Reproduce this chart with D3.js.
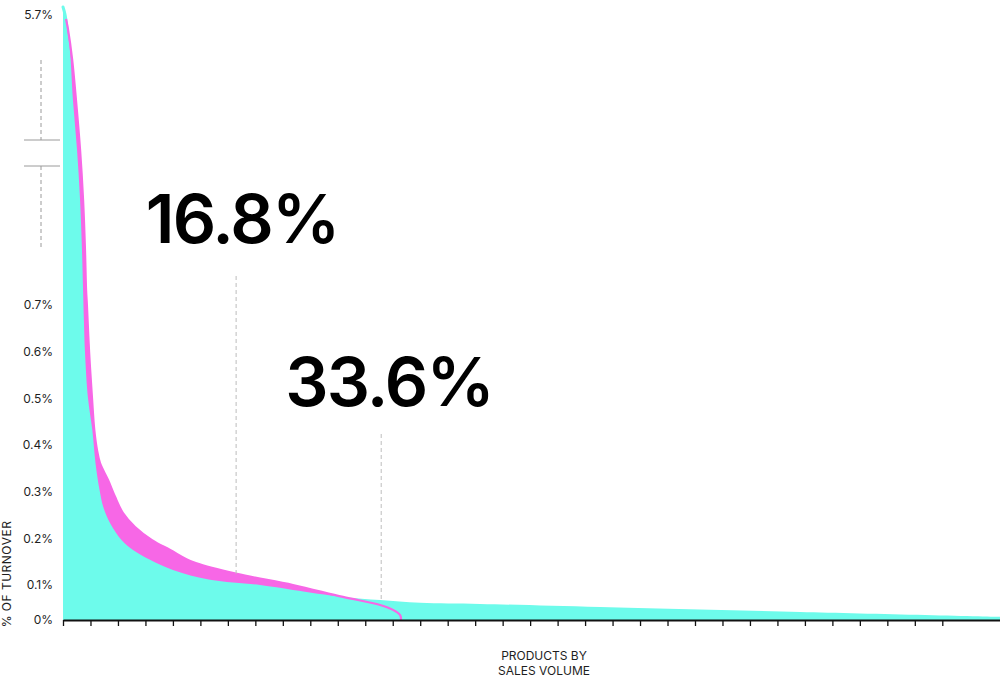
<!DOCTYPE html>
<html>
<head>
<meta charset="utf-8">
<title>Share of turnover by product</title>
<script src="https://cdn.jsdelivr.net/npm/d3@7/dist/d3.min.js"></script>
<style>
    body { margin: 0; background: #fff; }
    text { font-family: Inter, "Noto Sans", sans-serif; }
</style>
</head>
<body>
<div id="chart"></div>
<script>
// products ranked by sales volume (x) against their share of turnover in % (y)
var allRank  = [0, 0.07, 0.15, 0.25, 0.36, 0.51, 0.62, 0.69, 0.73, 0.76, 0.80, 0.91, 1.067, 1.183, 1.329, 1.467, 1.711, 2.137, 2.548, 3.167, 4.00, 5.35, 7.17, 8.37, 10.19, 11.54, 13.0, 15.18, 19.55, 26.83, 34.1];
var allShare = [5.7, 5.58, 5.33, 4.99, 4.15, 3.31, 2.47, 1.63, 0.95, 0.668, 0.599, 0.50, 0.432, 0.361, 0.304, 0.267, 0.233, 0.196, 0.175, 0.154, 0.132, 0.111, 0.100, 0.086, 0.066, 0.057, 0.049, 0.046, 0.037, 0.023, 0.009];

var subRank  = [0, 0.11, 0.18, 0.33, 0.47, 0.62, 0.73, 0.80, 0.84, 0.87, 0.95, 1.056, 1.139, 1.238, 1.347, 1.638, 1.893, 2.184, 2.621, 3.24, 3.90, 4.73, 6.33, 8.37, 10.19, 11.54, 12.01, 12.27, 12.30];
var subShare = [5.7, 5.5, 5.33, 4.83, 4.15, 3.31, 2.47, 1.63, 0.95, 0.70, 0.599, 0.50, 0.432, 0.389, 0.361, 0.325, 0.289, 0.254, 0.224, 0.196, 0.175, 0.149, 0.124, 0.1, 0.066, 0.043, 0.029, 0.014, 0];

var yTicks = [0, 0.1, 0.2, 0.3, 0.4, 0.5, 0.6, 0.7, 5.7];
var xTicks = d3.range(0, 33);

var notes     = ["16.8%", "33.6%"];
var noteRank  = [6.3, 11.58];
var noteShare = [0.124, 0.057];
var noteTopPx = [276, 434];

var width = 1000, height = 679;
var cyan = "#6dfbeb", pink = "#f767e6";

var svg = d3.select("#chart").append("svg")
    .attr("width", width)
    .attr("height", height);

var x = d3.scaleLinear().domain([0, 34.1]).range([63, 1000]);
// broken axis: the 0.7% .. 5.7% stretch is squeezed
var y = d3.scaleLinear().domain([0, 0.1, 0.7, 5.7]).range([620, 585, 305, 7]);

var all = allRank.map(function(r, i) { return { r: r, v: allShare[i] }; });
var sub = subRank.map(function(r, i) { return { r: r, v: subShare[i] }; });

var curve = d3.curveCatmullRom.alpha(0.5);

var area = d3.area()
    .x(function(d) { return x(d.r); })
    .y0(y(0))
    .y1(function(d) { return y(d.v); })
    .curve(curve);

var line = d3.line()
    .x(function(d) { return x(d.r); })
    .y(function(d) { return y(d.v); })
    .curve(curve);

svg.append("path").datum(sub)
    .attr("fill", pink)
    .attr("d", area);

svg.append("path").datum(all)
    .attr("fill", cyan)
    .attr("d", area);

// rounded tip at the top of the first product
svg.append("path").datum(all.slice(0, 3))
    .attr("fill", "none")
    .attr("stroke", cyan)
    .attr("stroke-width", 3)
    .attr("stroke-linecap", "round")
    .attr("d", line);

svg.append("path").datum(sub.slice(1))
    .attr("fill", "none")
    .attr("stroke", pink)
    .attr("stroke-width", 2.2)
    .attr("d", line);

// x axis
var xAxis = svg.append("g")
    .attr("transform", "translate(0," + y(0) + ")")
    .call(d3.axisBottom(x).tickValues(xTicks).tickSize(6).tickSizeOuter(0).tickFormat(""));
xAxis.select(".domain").attr("stroke", "#111").attr("stroke-width", 2);
xAxis.selectAll(".tick line").attr("stroke", "#111").attr("stroke-width", 1.3);

// y axis (labels only)
var yAxis = svg.append("g")
    .attr("transform", "translate(53,0)")
    .call(d3.axisLeft(y).tickValues(yTicks).tickSize(0)
        .tickFormat(function(d) { return d + "%"; }));
yAxis.select(".domain").remove();
yAxis.selectAll("text")
    .attr("x", 0)
    .style("font-family", "Inter, sans-serif")
    .style("font-size", "12px")
    .style("fill", "#1e1e1e")
    .attr("dy", function(d) { return d === 5.7 ? "0.95em" : "0.32em"; });

// axis break marks
var brk = svg.append("g").attr("stroke", "#9a9a9a").attr("stroke-width", 1);
brk.append("line").attr("x1", 41).attr("x2", 41).attr("y1", 60).attr("y2", 140).attr("stroke-dasharray", "4,3");
brk.append("line").attr("x1", 41).attr("x2", 41).attr("y1", 166).attr("y2", 247).attr("stroke-dasharray", "4,3");
brk.append("line").attr("x1", 24).attr("x2", 60).attr("y1", 140).attr("y2", 140);
brk.append("line").attr("x1", 24).attr("x2", 60).attr("y1", 166).attr("y2", 166);

// annotations
notes.forEach(function(t, i) {
    svg.append("line")
        .attr("x1", x(noteRank[i])).attr("x2", x(noteRank[i]))
        .attr("y1", noteTopPx[i]).attr("y2", y(noteShare[i]))
        .attr("stroke", "#bdbdbd")
        .attr("stroke-dasharray", "4,3");
    svg.append("text")
        .attr("x", x(noteRank[i]) + (i ? 8 : 6))
        .attr("y", noteTopPx[i] - 33 + (i ? 5 : 0))
        .attr("text-anchor", "middle")
        .style("font-size", "68px")
        .style("font-weight", 600)
        .style("letter-spacing", "-1.8px")
        .style("fill", "#000")
        .text(t);
});

// axis titles
svg.append("text")
    .attr("transform", "translate(11,574) rotate(-90)")
    .attr("text-anchor", "middle")
    .style("font-size", "12px")
    .style("letter-spacing", "0.5px")
    .style("fill", "#1e1e1e")
    .text("% OF TURNOVER");

svg.append("text")
    .attr("x", 544).attr("y", 660)
    .attr("text-anchor", "middle")
    .style("font-size", "12px")
    .style("fill", "#1e1e1e")
    .text("PRODUCTS BY");
svg.append("text")
    .attr("x", 544).attr("y", 675)
    .attr("text-anchor", "middle")
    .style("font-size", "12px")
    .style("fill", "#1e1e1e")
    .text("SALES VOLUME");
</script>
</body>
</html>
